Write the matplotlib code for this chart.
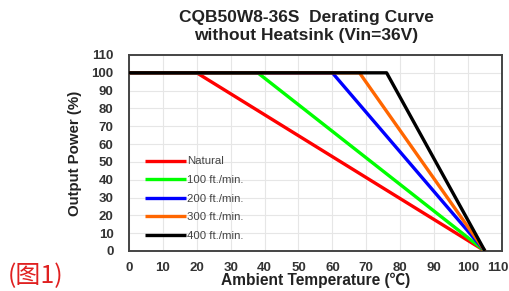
import matplotlib
matplotlib.use("Agg")
import matplotlib.pyplot as plt
import matplotlib.transforms as mtransforms

plt.rcParams['font.family'] = ['Liberation Sans', 'DejaVu Sans']

labels = ["Natural", "100 ft./min.", "200 ft./min.", "300 ft./min.", "400 ft./min."]
colors = ["#ff0000", "#00ff00", "#0000ff", "#ff6600", "#000000"]
knee_temps = [20, 38, 60, 68, 76]
full_power = 100
end_temp = 105
start_temp = 0
xticks = list(range(0, 111, 10))
yticks = list(range(0, 111, 10))

fig = plt.figure(figsize=(5.09, 2.91), dpi=100)
ax = fig.add_axes([0.2534, 0.1375, 0.7326, 0.6735])

for lab, col, k in zip(labels, colors, knee_temps):
    ax.plot([start_temp, k, end_temp], [full_power, full_power, 0], color=col, lw=2.4,
            label=lab, solid_capstyle='butt', zorder=3)

ax.set_xlim(0, 110)
ax.set_ylim(0, 110)
ax.set_xticks(xticks)
ax.set_yticks(yticks)
ax.grid(True, color='#e6e6e6', lw=0.8, zorder=0)
for s in ax.spines.values():
    s.set_color('#444444')
    s.set_linewidth(1.4)
ax.tick_params(axis='x', length=0, labelsize=9.5, pad=8)
ax.tick_params(axis='y', length=0, labelsize=9.5, pad=11)
for t in ax.get_xticklabels() + ax.get_yticklabels():
    t.set_fontweight('bold')
    t.set_color('#333333')
# nudge the last x tick label so it stays inside the canvas
last = ax.get_xticklabels()[-1]
last.set_transform(last.get_transform() +
                   mtransforms.ScaledTranslation(-4 / 100, 0, fig.dpi_scale_trans))

ax.set_xlabel("Ambient Temperature (℃)", fontsize=11.2, fontweight='bold', labelpad=-1,
              family=['Liberation Sans', 'Noto Sans CJK SC', 'DejaVu Sans'], color='#222222')
ax.set_ylabel("Output Power (%)", fontsize=10.8, fontweight='bold', labelpad=7, color='#222222')
ax.set_title("CQB50W8-36S  Derating Curve\nwithout Heatsink (Vin=36V)", fontsize=12.5,
             fontweight='bold', pad=11, linespacing=1.25, color='#222222', x=0.476)

leg = ax.legend(loc='lower left', bbox_to_anchor=(0.022, 0.012), frameon=False, fontsize=8.2,
                handlelength=3.6, handletextpad=0.1, labelspacing=0.75, borderaxespad=0.3)
for t in leg.get_texts():
    t.set_color('#444444')

fig.text(8 / 509, 0.028, "(图1)", color='#e02020', fontsize=18,
         family=['Noto Sans CJK SC', 'DejaVu Sans'])

fig.savefig("out.png", dpi=100)
